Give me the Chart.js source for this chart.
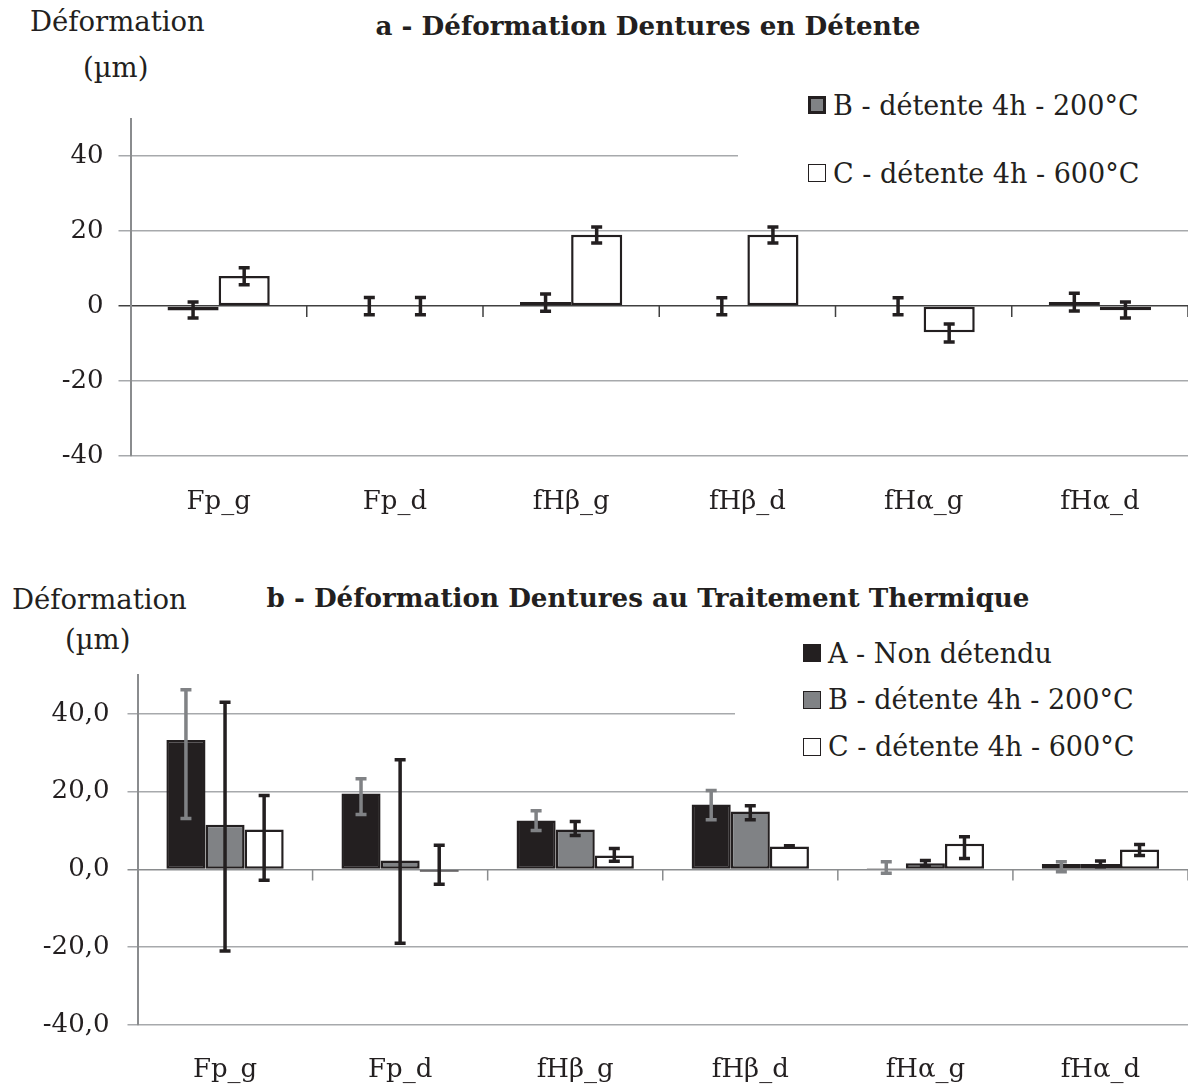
<!DOCTYPE html>
<html><head><meta charset="utf-8">
<script src="https://cdn.jsdelivr.net/npm/chart.js@4.4.1/dist/chart.umd.min.js"></script>
<style>
body{margin:0;width:1188px;height:1085px;position:relative;background:#fff;font-family:'DejaVu Serif',serif;color:#231f20;overflow:hidden}
canvas{position:absolute;left:0}
.t{position:absolute;white-space:nowrap;font-size:27.5px;line-height:1}
.title{font-weight:bold;font-size:26.2px}
.legend{position:absolute;background:#fff;font-size:27px;box-sizing:border-box}
.item{display:flex;align-items:center;white-space:nowrap}
.box{display:inline-block;width:18px;height:18px;margin-right:7px;box-sizing:border-box}
</style></head>
<body>
<div class="t" style="left:30px;top:8px">Déformation</div>
<div class="t" style="left:83px;top:54px">(µm)</div>
<div class="t title" id="titleA" style="left:0;width:1296px;text-align:center;top:13px"></div>
<canvas id="ca" width="1188" height="540" style="top:0"></canvas>
<div class="legend" id="legA" style="left:738px;top:82px;width:450px;height:118px;padding-left:70px"></div>

<div class="t" style="left:12px;top:586px">Déformation</div>
<div class="t" style="left:65px;top:626px">(µm)</div>
<div class="t title" id="titleB" style="left:0;width:1296px;text-align:center;top:585px"></div>
<canvas id="cb" width="1188" height="525" style="top:560px"></canvas>
<div class="legend" id="legB" style="left:735px;top:630px;width:453px;height:140px;padding-left:68px"></div>

<script>
// ---- data ----
const categories = ['Fp_g','Fp_d','fHβ_g','fHβ_d','fHα_g','fHα_d'];
const titleA = 'a - Déformation Dentures en Détente';
const titleB = 'b - Déformation Dentures au Traitement Thermique';
const labelA = 'A - Non détendu';
const labelB = 'B - détente 4h - 200°C';
const labelC = 'C - détente 4h - 600°C';
const yTicks = [-40, -20, 0, 20, 40];

// chart a (relief)
const aB      = [-1.2, 0, 1.1, 0, 0, 1.1];
const aB_lo   = [-3.2, -2.3, -1.4, -2.3, -2.3, -1.3];
const aB_hi   = [1.1, 2.3, 3.2, 2.2, 2.2, 3.4];
const aC      = [8, 0, 19, 19, -7, -1.1];
const aC_lo   = [5.7, -2.3, 16.8, 16.8, -9.6, -3.2];
const aC_hi   = [10.2, 2.3, 21.1, 21.1, -4.8, 1.1];

// chart b (heat treatment)
const bA      = [33.3, 19.5, 12.6, 16.7, 0.3, 1.4];
const bA_lo   = [13.1, 14.1, 10.0, 12.8, -1.0, -0.6];
const bA_hi   = [46.2, 23.3, 15.1, 20.3, 2.0, 2.0];
const bB      = [11.5, 2.3, 10.3, 14.9, 1.6, 1.4];
const bB_lo   = [-21.0, -19.0, 8.7, 12.8, 0.8, 0.7];
const bB_hi   = [43.0, 28.2, 12.3, 16.4, 2.3, 2.2];
const bC      = [10.3, -0.6, 3.6, 5.9, 6.6, 5.1];
const bC_lo   = [-2.8, -3.8, 2.1, 5.7, 2.8, 3.6];
const bC_hi   = [19.0, 6.2, 5.4, 6.1, 8.4, 6.4];

// ---- styles ----
const INK = '#231f20', GREY = '#808285', WHITE = '#ffffff';
const FONT = {family: "'DejaVu Serif', serif", size: 26};

document.getElementById('titleA').textContent = titleA;
document.getElementById('titleB').textContent = titleB;

function legend(el, items){
  items.forEach((it) => {
    const d = document.createElement('div'); d.className = 'item';
    d.style.height = it.h + 'px';
    const b = document.createElement('span'); b.className = 'box';
    b.style.background = it.fill; b.style.border = it.bw + 'px solid ' + INK;
    const s = document.createElement('span'); s.textContent = it.label;
    d.appendChild(b); d.appendChild(s); el.appendChild(d);
  });
}

const errorBars = {
  id: 'errorBars',
  afterDatasetsDraw(chart){
    const ctx = chart.ctx, ys = chart.scales.y;
    chart.data.datasets.forEach((ds, i) => {
      const meta = chart.getDatasetMeta(i);
      meta.data.forEach((bar, j) => {
        const yh = ys.getPixelForValue(ds.errHi[j]), yl = ys.getPixelForValue(ds.errLo[j]);
        ctx.save();
        ctx.strokeStyle = ds.errColor; ctx.lineWidth = 3.5; ctx.lineCap = 'butt';
        ctx.beginPath();
        ctx.moveTo(bar.x, yh); ctx.lineTo(bar.x, yl);
        ctx.moveTo(bar.x - 5.5, yh); ctx.lineTo(bar.x + 5.5, yh);
        ctx.moveTo(bar.x - 5.5, yl); ctx.lineTo(bar.x + 5.5, yl);
        ctx.stroke();
        ctx.restore();
      });
    });
  }
};

const zeroTicks = {
  id: 'zeroTicks',
  afterDatasetsDraw(chart, args, opts){
    const ctx = chart.ctx, xs = chart.scales.x, ys = chart.scales.y;
    const y0 = ys.getPixelForValue(0);
    const half = (xs.getPixelForValue(1) - xs.getPixelForValue(0)) / 2;
    ctx.save();
    ctx.strokeStyle = opts.color; ctx.lineWidth = 1.5;
    ctx.beginPath();
    for (let i = 0; i < categories.length; i++) {
      const x = xs.getPixelForValue(i) + half;
      ctx.moveTo(x, y0); ctx.lineTo(x, y0 + 11);
    }
    ctx.stroke();
    ctx.restore();
  }
};

function makeChart(id, datasets, cfg){
  return new Chart(document.getElementById(id), {
    type: 'bar',
    data: {labels: categories, datasets},
    options: {
      responsive: false, animation: false, devicePixelRatio: 1,
      layout: {padding: {top: cfg.top, right: 0, bottom: 0, left: 0}},
      plugins: {legend: {display: false}, title: {display: false}, tooltip: {enabled: false},
                zeroTicks: {color: cfg.zeroColor}},
      scales: {
        x: {
          grid: {display: false, drawTicks: false},
          border: {display: false},
          ticks: {font: FONT, color: INK, padding: cfg.xPad},
          afterFit: s => { s.height = cfg.xH; }
        },
        y: {
          min: -40, max: 50,
          afterBuildTicks: s => { s.ticks = yTicks.map(v => ({value: v})); },
          grid: {color: c => (c.tick && c.tick.value === 0) ? cfg.zeroColor : '#a7a9ac', lineWidth: 1.5, tickLength: cfg.tickLen},
          border: {color: '#8a8c8e', width: 2},
          ticks: {font: FONT, color: INK, padding: cfg.yPad, callback: cfg.fmt},
          afterFit: s => { s.width = cfg.yW; }
        }
      }
    },
    plugins: [zeroTicks, errorBars]
  });
}

function ds(label, data, lo, hi, fill, errColor, pct){
  return {label, data, errLo: lo, errHi: hi, backgroundColor: fill, borderColor: INK,
          borderWidth: 2.5, borderSkipped: false, errColor,
          categoryPercentage: pct, barPercentage: 1};
}

makeChart('ca', [
  ds(labelB, aB, aB_lo, aB_hi, GREY, INK, 0.58),
  ds(labelC, aC, aC_lo, aC_hi, WHITE, INK, 0.58)
], {top: 118.5, xH: 84, xPad: 31, yW: 130.5, tickLen: 12, yPad: 15, zeroColor: '#404040', fmt: v => String(v)});

makeChart('cb', [
  ds(labelA, bA, bA_lo, bA_hi, INK, GREY, 0.67),
  ds(labelB, bB, bB_lo, bB_hi, GREY, INK, 0.67),
  ds(labelC, bC, bC_lo, bC_hi, WHITE, INK, 0.67)
], {top: 115, xH: 60, xPad: 30, yW: 137.5, tickLen: 10, yPad: 18, zeroColor: '#8a8c8e', fmt: v => v.toFixed(1).replace('.', ',')});

legend(document.getElementById('legA'), [
  {label: labelB, fill: GREY, bw: 3.5, h: 46},
  {label: labelC, fill: WHITE, bw: 1.5, h: 90}
]);
legend(document.getElementById('legB'), [
  {label: labelA, fill: INK, bw: 1.5, h: 46},
  {label: labelB, fill: GREY, bw: 1.5, h: 47},
  {label: labelC, fill: WHITE, bw: 1.5, h: 47}
]);
</script>
</body></html>
